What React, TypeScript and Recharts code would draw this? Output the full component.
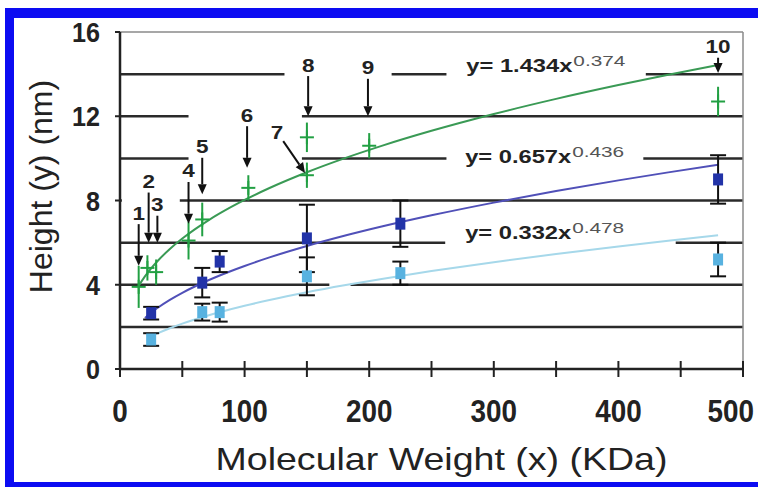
import React from 'react';
import {
  ComposedChart, Line, Scatter, ErrorBar, XAxis, YAxis, CartesianGrid,
  ReferenceLine, ReferenceArea, ReferenceDot,
} from 'recharts';

const xTicks = [0, 50, 100, 150, 200, 250, 300, 350, 400, 450, 500];
const yTicks = [0, 2, 4, 6, 8, 10, 12, 14, 16];
const gridValues = [2, 4, 6, 8, 10, 12, 14];

// green crosses (proteins 1..10)
const greenX = [15, 22, 29, 55, 66, 103, 150, 150, 200, 480];
const greenY = [3.9, 4.8, 4.6, 6.1, 7.1, 8.6, 9.2, 11.0, 10.6, 12.7];
const greenErr = [1.0, 0.6, 0.6, 0.9, 0.8, 0.6, 0.6, 0.7, 0.6, 0.7];

// dark blue squares
const blueX = [25, 66, 80, 150, 225, 480];
const blueY = [2.65, 4.1, 5.1, 6.2, 6.9, 9.0];
const blueErr = [0.3, 0.7, 0.5, 1.6, 1.1, 1.15];

// light blue squares
const lightX = [25, 66, 80, 150, 225, 480];
const lightY = [1.4, 2.7, 2.7, 4.4, 4.55, 5.2];
const lightErr = [0.3, 0.4, 0.45, 0.9, 0.55, 0.8];

// power fits y = a x^b, as printed on the chart
const fitA = [1.434, 0.657, 0.332];
const fitB = [0.374, 0.436, 0.478];
const fitFrom = [15, 20, 25];
const fitSamples = [15, 20, 25, 30, 40, 50, 60, 70, 80, 100, 120, 150, 180, 210, 250, 300, 350, 400, 440, 480];
const fitColors = ['#3a9a55', '#5050b8', '#a6d8ea'];

const eqMain = ['y= 1.434x', 'y= 0.657x', 'y= 0.332x'];
const eqExp = ['0.374', '0.436', '0.478'];

// numbered arrows: label, label point, arrow tip
const arrowLabels = ['1', '2', '3', '4', '5', '6', '7', '8', '9', '10'];
const arrowFromX = [15, 23, 30, 55, 66, 102, 126, 151, 199, 480];
const arrowFromY = [7.4, 8.9, 7.8, 9.4, 10.55, 12.05, 11.25, 14.43, 14.3, 15.3];
const arrowToX = [15, 23, 30, 55, 66, 102, 148.5, 151, 199, 480];
const arrowToY = [4.9, 6.0, 6.0, 6.9, 8.3, 9.55, 9.31, 12.0, 12.0, 14.05];

// white text-box areas that break the gridlines (layout)
const masks = [
  [262, 422, 13.25, 14.75],
  [262, 420, 9.25, 10.75],
  [261, 446, 5.3, 6.7],
  [132, 218, 13.4, 15.6],
  [55, 146, 9.6, 12.4],
  [1.5, 48, 7.6, 8.4],
  [168, 185, 3.7, 4.3],
];
const eqAnchor = [[278, 14.1], [277, 9.78], [277, 6.17]];

const FONT = 'Liberation Sans, Arial, Helvetica, sans-serif';

const toPts = (xs: number[], ys: number[], es: number[]) =>
  xs.map((x, i) => ({ x, y: ys[i], err: es[i] }));

const greenPts = toPts(greenX, greenY, greenErr);
const bluePts = toPts(blueX, blueY, blueErr);
const lightPts = toPts(lightX, lightY, lightErr);
const fitData = fitA.map((a, i) =>
  fitSamples.filter((x) => x >= fitFrom[i]).map((x) => ({ x, y: a * Math.pow(x, fitB[i]) }))
);

const Plus = (p: any) => (
  <g stroke="#22a043" strokeWidth={2}>
    <line x1={p.cx - 7} x2={p.cx + 7} y1={p.cy} y2={p.cy} />
    <line x1={p.cx} x2={p.cx} y1={p.cy - 7} y2={p.cy + 7} />
  </g>
);
const Square = (color: string) => (p: any) => (
  <rect x={p.cx - 5} y={p.cy - 6} width={10} height={12} fill={color} />
);

const XTick = (p: any) => {
  const v = p.payload.value;
  const last = v === xTicks[xTicks.length - 1];
  return (
    <g>
      <line x1={p.x} x2={p.x} y1={p.y - 8} y2={p.y + 8} stroke="#222" strokeWidth={2} />
      {v % 100 === 0 && (
        <text x={last ? p.x + 11 : p.x} y={p.y + 53} textAnchor={last ? 'end' : 'middle'} fontFamily={FONT}
          fontWeight="bold" fontSize={31} fill="#222" textLength={String(v).length * 15.5}
          lengthAdjust="spacingAndGlyphs">
          {v}
        </text>
      )}
    </g>
  );
};

const YTick = (p: any) => {
  const v = p.payload.value;
  if (v % 4 !== 0) return <g />;
  return (
    <g>
      <line x1={p.x - 5} x2={p.x} y1={p.y} y2={p.y} stroke="#222" strokeWidth={2} />
      <text x={p.x - 20} y={p.y} dy="0.36em" textAnchor="end" fontFamily={FONT} fontWeight="bold"
        fontSize={28} fill="#222" textLength={String(v).length * 14} lengthAdjust="spacingAndGlyphs">
        {v}
      </text>
    </g>
  );
};

const arrowShape = (label: string) => (p: any) => {
  const { x1, y1, x2, y2 } = p;
  const dx = x2 - x1;
  const dy = y2 - y1;
  const len = Math.sqrt(dx * dx + dy * dy) || 1;
  const ux = dx / len;
  const uy = dy / len;
  const sx = x1 + ux * 11;
  const sy = y1 + uy * 11;
  const bx = x2 - ux * 10;
  const by = y2 - uy * 10;
  const px = -uy * 4.5;
  const py = ux * 4.5;
  return (
    <g>
      <line x1={sx} y1={sy} x2={bx} y2={by} stroke="#111" strokeWidth={2} />
      <polygon points={`${x2},${y2} ${bx + px},${by + py} ${bx - px},${by - py}`} fill="#111" />
      <text x={x1} y={y1} dy="0.36em" textAnchor="middle" fontFamily={FONT} fontWeight="bold"
        fontSize={18} fill="#222" textLength={label.length * 12.5} lengthAdjust="spacingAndGlyphs">
        {label}
      </text>
    </g>
  );
};

const eqLabel = (i: number) => (p: any) => {
  const vb = p.viewBox || {};
  const cx = vb.x + 1;
  const cy = vb.y + 1;
  return (
    <g fontFamily={FONT}>
      <text x={cx} y={cy} fontWeight="bold" fontSize={18} fill="#222"
        textLength={106} lengthAdjust="spacingAndGlyphs">{eqMain[i]}</text>
      <text x={cx + 107} y={cy - 6} fontSize={15} fill="#555"
        textLength={52} lengthAdjust="spacingAndGlyphs">{eqExp[i]}</text>
    </g>
  );
};

const yLabel = (p: any) => {
  const vb = p.viewBox;
  const cx = vb.x + 40;
  const cy = vb.y + vb.height / 2 - 14;
  return (
    <text x={cx} y={cy} transform={`rotate(-90 ${cx} ${cy})`} textAnchor="middle" dy="0.36em"
      fontFamily={FONT} fontSize={32} fill="#222">
      Height (y) (nm)
    </text>
  );
};

const xLabel = (p: any) => {
  const vb = p.viewBox;
  return (
    <text x={vb.x + vb.width / 2 + 10} y={vb.y + 101} textAnchor="middle" fontFamily={FONT}
      fontSize={32} fill="#222" textLength={452} lengthAdjust="spacingAndGlyphs">
      Molecular Weight (x) (KDa)
    </text>
  );
};

export default function App() {
  return (
    <div style={{ position: 'absolute', left: 0, top: 0, width: 758, height: 487, background: '#fff', overflow: 'hidden' }}>
      <div style={{
        position: 'absolute', left: 5, top: 8, width: 820, height: 479, boxSizing: 'border-box',
        borderLeft: '9px solid #0c0cf2', borderTop: '10px solid #0c0cf2', borderBottom: '5px solid #0c0cf2',
      }} />
      <div style={{ position: 'absolute', left: 0, top: 0 }}>
        <ComposedChart width={758} height={487} margin={{ top: 32, right: 15, bottom: 0, left: 0 }}>
          <CartesianGrid horizontal vertical={false} horizontalValues={gridValues} stroke="#2a2a2a" strokeWidth={2.5} />
          <XAxis dataKey="x" type="number" domain={[0, 500]} ticks={xTicks} interval={0} allowDataOverflow
            height={118} tickSize={0} tickMargin={0} tick={<XTick />} axisLine={{ stroke: '#222', strokeWidth: 2.5 }}
            tickLine={false} label={xLabel} />
          <YAxis dataKey="y" type="number" domain={[0, 16]} ticks={yTicks} interval={0} allowDataOverflow
            width={120} tickSize={0} tickMargin={0} tick={<YTick />} axisLine={{ stroke: '#222', strokeWidth: 2.5 }}
            tickLine={false} label={yLabel} />
          {masks.map((m, i) => (
            <ReferenceArea key={`m${i}`} x1={m[0]} x2={m[1]} y1={m[2]} y2={m[3]} fill="#fff" fillOpacity={1}
              stroke="none" ifOverflow="visible" />
          ))}
          <ReferenceLine y={16} stroke="#8a8a8a" strokeWidth={1.5} />
          <ReferenceLine x={500} stroke="#8a8a8a" strokeWidth={1.5} />
          {fitData.map((d, i) => (
            <Line key={`f${i}`} data={d} dataKey="y" type="monotone" dot={false} activeDot={false}
              stroke={fitColors[i]} strokeWidth={2} isAnimationActive={false} />
          ))}
          <Scatter data={lightPts} dataKey="y" shape={Square('#58b2e0')} isAnimationActive={false}>
            <ErrorBar dataKey="err" direction="y" width={8} stroke="#111" strokeWidth={2} />
          </Scatter>
          <Scatter data={bluePts} dataKey="y" shape={Square('#2233a8')} isAnimationActive={false}>
            <ErrorBar dataKey="err" direction="y" width={8} stroke="#111" strokeWidth={2} />
          </Scatter>
          <Scatter data={greenPts} dataKey="y" shape={Plus} isAnimationActive={false}>
            <ErrorBar dataKey="err" direction="y" width={0} stroke="#22a043" strokeWidth={2} />
          </Scatter>
          {arrowLabels.map((lab, i) => (
            <ReferenceLine key={`a${i}`} segment={[{ x: arrowFromX[i], y: arrowFromY[i] }, { x: arrowToX[i], y: arrowToY[i] }]}
              shape={arrowShape(lab)} ifOverflow="visible" />
          ))}
          {eqAnchor.map((a, i) => (
            <ReferenceDot key={`e${i}`} x={a[0]} y={a[1]} r={1} fill="none" stroke="none"
              label={eqLabel(i)} ifOverflow="visible" />
          ))}
        </ComposedChart>
      </div>
    </div>
  );
}
